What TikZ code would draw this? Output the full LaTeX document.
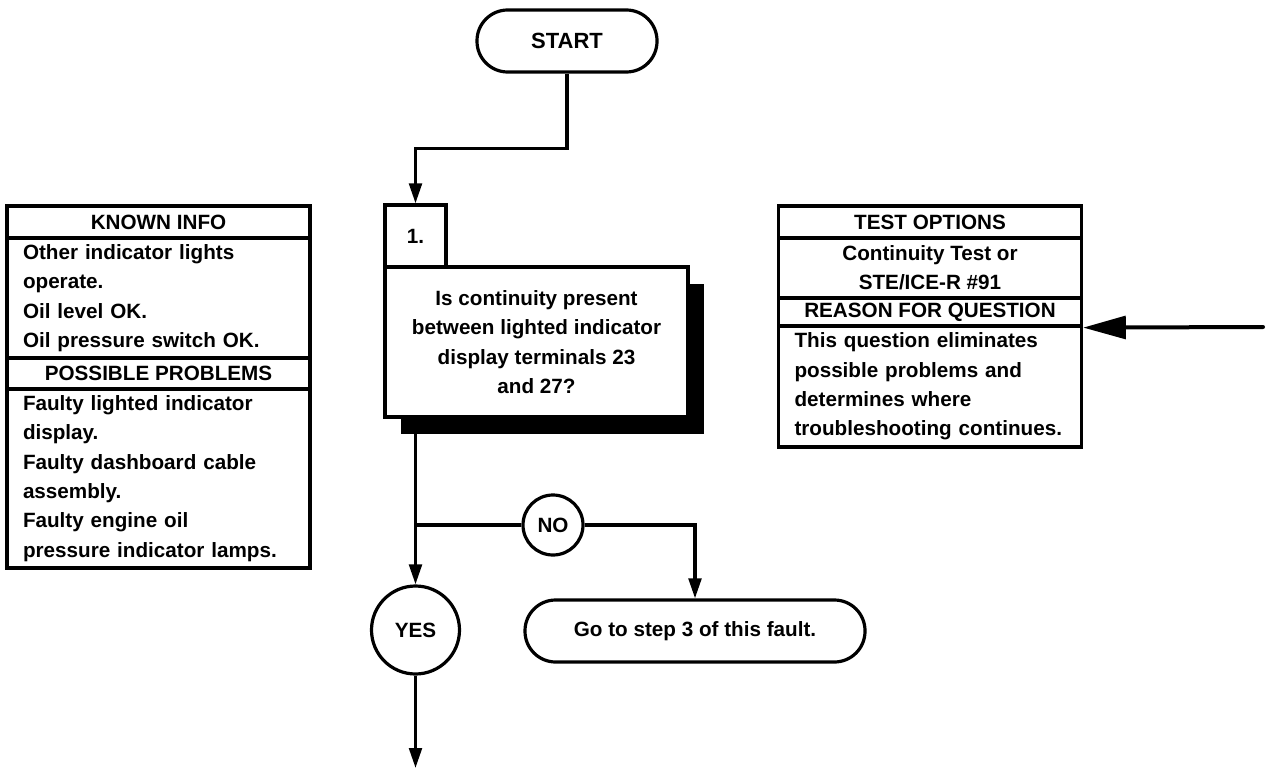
\documentclass[tikz,border=0pt]{standalone}
\usepackage{fontspec}
\setmainfont{Liberation Sans}
\usetikzlibrary{arrows.meta, positioning, shadows}

\begin{document}
\begin{tikzpicture}[x=0.75pt, y=-0.75pt, line width=2.4pt,
    every node/.style={font=\bfseries\fontsize{15.5}{22}\selectfont},
    panel/.style={draw, rectangle, minimum width=227.25pt, inner sep=0pt, align=center},
    panelbody/.style={panel, text width=203.25pt, inner xsep=12pt, align=left},
    term/.style={draw, rectangle, rounded corners=23pt, minimum height=46.5pt, inner sep=0pt},
    ring/.style={draw, circle, inner sep=0pt},
    arr/.style={-{Triangle[length=15pt, width=9.5pt]}}]
  \useasboundingbox (0,0) rectangle (1269,770);

  % left panel
  \node[panel, minimum height=24pt] (known) at (158.5,222) {KNOWN INFO};
  \node[panelbody, minimum height=90pt] (knownlist) at (158.5,298)
    {Other indicator lights\\operate.\\Oil level OK.\\Oil pressure switch OK.};
  \node[panel, minimum height=23.25pt] (probs) at (158.5,373.5) {POSSIBLE PROBLEMS};
  \node[panelbody, minimum height=134.25pt] (probslist) at (158.5,478.5)
    {Faulty lighted indicator\\display.\\Faulty dashboard cable\\assembly.\\Faulty engine oil\\pressure indicator lamps.};

  % right panel
  \node[panel, minimum height=24pt] (tests) at (930,222) {TEST OPTIONS};
  \node[panel, minimum height=45pt] (testlist) at (930,268) {Continuity Test or\\STE/ICE-R \#91};
  \node[panel, minimum height=21pt] (reason) at (930,312) {REASON FOR QUESTION};
  \node[panelbody, minimum height=90.75pt] (reasontext) at (930,386.5)
    {This question eliminates\\possible problems and\\determines where\\troubleshooting continues.};

  % flow
  \node[term, minimum width=135pt, font=\bfseries\fontsize{16.5}{22}\selectfont] (start) at (567,41) {START};
  \node[draw, rectangle, minimum width=45.75pt, minimum height=46.5pt, inner sep=0pt] (num) at (415.5,236) {1.};
  \node[draw, rectangle, fill=white, minimum width=227.25pt, minimum height=112.5pt, inner sep=0pt, align=center,
    drop shadow={shadow xshift=12pt, shadow yshift=-13pt, fill=black, opacity=1}] (quest) at (536.5,342)
    {Is continuity present\\between lighted indicator\\display terminals 23\\and 27?};
  \node[ring, minimum size=45pt] (no) at (553,525) {NO};
  \node[ring, minimum size=66pt] (yes) at (415.5,630) {YES};
  \node[term, minimum width=255pt] (goto) at (695,631) {Go to step 3 of this fault.};
  \coordinate (split) at (415.5,525);
  \coordinate (next) at (415.5,768);
  \coordinate (feed) at (1263,327);

  \draw[arr] (start.south) -- ++(0,75) -| (num.north);
  \draw (quest.south -| num.south) -- (split);
  \draw[arr] (split) -- (yes.north);
  \draw (split) -- (no.west);
  \draw[arr] (no.east) -| (goto.north);
  \draw[arr] (yes.south) -- (next);
  \draw[line width=3pt, line cap=round, -{Triangle[length=32pt, width=17pt]}] (feed) -- (reason.south east);
\end{tikzpicture}
\end{document}
